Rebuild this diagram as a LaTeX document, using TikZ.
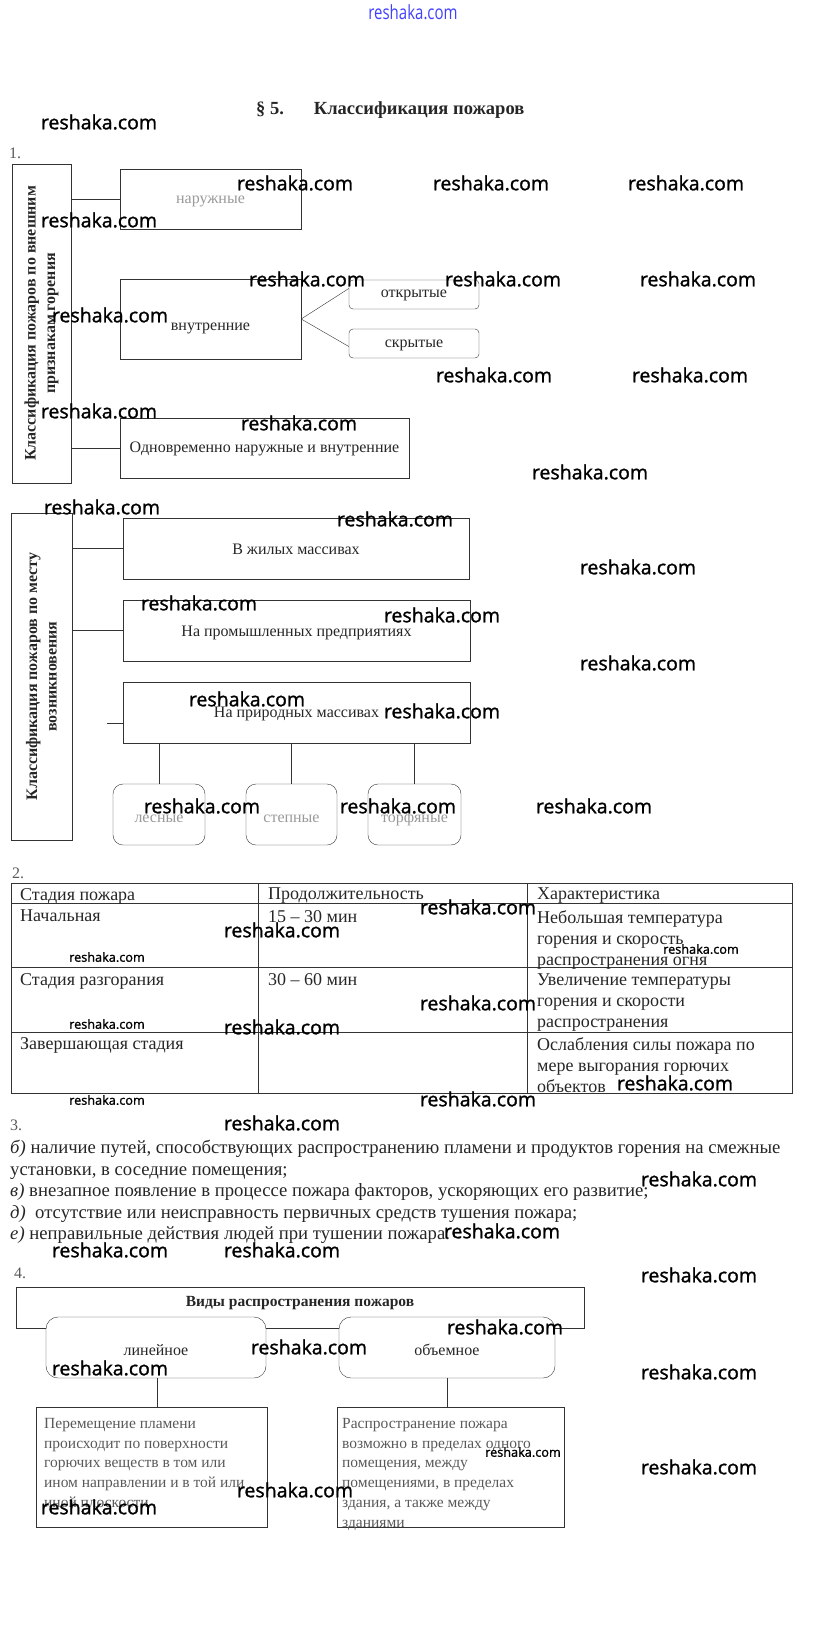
\documentclass[tikz,border=0pt]{standalone}
\usepackage{fontspec}
\setmainfont{Liberation Serif}
\newfontfamily\wmfont{Open Sans}[FakeBold=1.3]
\newfontfamily\urlfont{Open Sans}
\usepackage{tikz}
\usetikzlibrary{positioning}
\tikzset{every node/.style={font=\fontsize{16}{20}\selectfont}}
\colorlet{linecol}{black!80}
\colorlet{textcol}{black!85}
\colorlet{fadecol}{black!40}
\colorlet{softcol}{black!65}
\colorlet{wmcol}{black}
\colorlet{urlcol}{blue!75!white}
% text lowered inside its box, without changing the box
\newcommand{\shiftdown}[2]{\raisebox{-#1}[0pt][0pt]{#2}}

\begin{document}
\begin{tikzpicture}[x=1pt, y=-1pt,
  box/.style={draw=linecol, rectangle, inner sep=0pt, text=textcol},
  rbox/.style={box, rounded corners=4pt},
  kidbox/.style={box, rounded corners=10pt},
  vlabel/.style={box, rotate=90, align=center,
    font=\bfseries\fontsize{16}{19.5}\selectfont},
  cell/.style={anchor=north west, inner sep=0pt, align=left, text=textcol,
    font=\fontsize{18}{21}\selectfont},
  num/.style={anchor=west, inner sep=0pt, text=softcol},
  wmark/.style={text=wmcol, inner sep=0pt, font=\wmfont\fontsize{19.5}{22}\selectfont},
  wmsmall/.style={wmark, font=\wmfont\fontsize{12.7}{15}\selectfont},
  link/.style={draw=linecol, thin}]

  % Page frame.
  \useasboundingbox (0,0) rectangle (823,1639);

  % Header.
  \node[text=urlcol, inner sep=0pt, font=\urlfont\fontsize{15}{18}\selectfont]
    (url) at (413,12) {\scalebox{1}[1.3]{reshaka.com}};
  \node[anchor=west, inner sep=0pt, text=textcol,
    font=\bfseries\fontsize{18.5}{22}\selectfont]
    (title) at (256,110) {§ 5.\hspace{30pt}Классификация пожаров};

  % 1. Classification by outer signs.
  \node[num] (n1) at (9,153) {1.};
  \node[vlabel, minimum width=319pt, minimum height=59pt] (signs) at (41.5,323.5)
    {Классификация пожаров по внешним\\признакам горения};
  \node[box, text=fadecol, minimum width=181pt, minimum height=60pt] (outer)
    at (210.5,199) {\shiftdown{4.5pt}{наружные}};
  \node[box, minimum width=181pt, minimum height=80pt] (inner)
    at (210.5,319) {\shiftdown{11.5pt}{внутренние}};
  \node[rbox, minimum width=130pt, minimum height=29pt] (open)
    at (414,294.5) {\shiftdown{2.5pt}{открытые}};
  \node[rbox, minimum width=130pt, minimum height=29pt] (hidden)
    at (414,343.5) {\shiftdown{3.5pt}{скрытые}};
  \node[box, minimum width=289pt, minimum height=60pt] (both)
    at (264.5,448) {\shiftdown{4pt}{Одновременно наружные и внутренние}};

  \draw[link] (signs.south |- outer.west) -- (outer.west);
  \draw[link] (signs.south |- both.west) -- (both.west);
  \draw[link] (inner.east) -- ([yshift=6pt]open.west);
  \draw[link] (inner.east) -- ([yshift=-3pt]hidden.west);

  % 1. Classification by place of origin.
  \node[vlabel, minimum width=327pt, minimum height=61pt] (place) at (41.5,676.5)
    {Классификация пожаров по месту\\возникновения};
  \node[box, minimum width=346pt, minimum height=61pt] (homes)
    at (296,548.5) {\shiftdown{6pt}{В жилых массивах}};
  \node[box, minimum width=347pt, minimum height=61pt] (plants)
    at (296.5,630.5) {\shiftdown{6pt}{На промышленных предприятиях}};
  \node[box, minimum width=347pt, minimum height=61pt] (nature)
    at (296.5,712.5) {\shiftdown{4.5pt}{На природных массивах}};
  \node[kidbox, text=fadecol, minimum width=92pt, minimum height=61pt] (forest)
    at (159,814.5) {\shiftdown{8pt}{лесные}};
  \node[kidbox, text=fadecol, minimum width=91pt, minimum height=61pt] (steppe)
    at (291.5,814.5) {\shiftdown{8pt}{степные}};
  \node[kidbox, text=fadecol, minimum width=93pt, minimum height=61pt] (peat)
    at (414.5,814.5) {\shiftdown{8pt}{торфяные}};
  \coordinate (stub) at (107,723);

  \draw[link] (place.south |- homes.west) -- (homes.west);
  \draw[link] (place.south |- plants.west) -- (plants.west);
  \draw[link] (stub) -- (stub -| nature.west);
  \foreach \kid in {forest, steppe, peat} {
    \draw[link] (\kid.north) -- (\kid.north |- nature.south);
  }

  % 2. Table of fire stages.
  \node[num] (n2) at (12,873) {2.};
  \draw[link] (11,883) rectangle (792,1093);
  \foreach \y in {903, 967, 1032} {
    \draw[link] (11,\y) -- (792,\y);
  }
  \foreach \x in {258, 527} {
    \draw[link] (\x,883) -- (\x,1093);
  }
  \node[cell] (h1) at (20,888) {Стадия пожара};
  \node[cell] (h2) at (268,888) {Продолжительность};
  \node[cell] (h3) at (537,888) {Характеристика};
  \node[cell] (a1) at (20,910) {Начальная};
  \node[cell] (a2) at (268,910) {15 -- 30 мин};
  \node[cell] (a3) at (537,910)
    {Небольшая температура\\горения и скорость\\распространения огня};
  \node[cell] (b1) at (20,973) {Стадия разгорания};
  \node[cell] (b2) at (268,973) {30 -- 60 мин};
  \node[cell] (b3) at (537,973)
    {Увеличение температуры\\горения и скорости\\распространения};
  \node[cell] (c1) at (20,1037) {Завершающая стадия};
  \node[cell] (c3) at (537,1037)
    {Ослабления силы пожара по\\мере выгорания горючих\\объектов};

  % 3. Factors.
  \node[num] (n3) at (10,1125) {3.};
  \node[cell, font=\fontsize{18.7}{21.5}\selectfont] (factors) at (10,1140)
    {\textit{б)} наличие путей, способствующих распространению пламени и продуктов горения на смежные\\
     установки, в соседние помещения;\\
     \textit{в)} внезапное появление в процессе пожара факторов, ускоряющих его развитие;\\
     \textit{д)}\ \ отсутствие или неисправность первичных средств тушения пожара;\\
     \textit{е)} неправильные действия людей при тушении пожара.};

  % 4. Kinds of spread.
  \node[num] (n4) at (14,1273) {4.};
  \node[box, minimum width=568pt, minimum height=41pt,
    font=\bfseries\fontsize{15.5}{19}\selectfont] (kinds)
    at (300,1307.5) {\shiftdown{-1pt}{Виды распространения пожаров}};
  \node[box, fill=white, rounded corners=12pt, minimum width=220pt,
    minimum height=61pt] (linear) at (156,1347.5) {\shiftdown{8pt}{линейное}};
  \node[box, fill=white, rounded corners=12pt, minimum width=216pt,
    minimum height=61pt] (volume) at (447,1347.5) {\shiftdown{8pt}{объемное}};
  \node[box, minimum width=231pt, minimum height=120pt] (lindesc)
    at (151.5,1467) {};
  \node[box, minimum width=227pt, minimum height=120pt] (voldesc)
    at (450.5,1467) {};
  \node[cell, text=softcol, font=\fontsize{15.5}{19.8}\selectfont] (lintext)
    at (44,1418) {Перемещение пламени\\происходит по поверхности\\горючих веществ в том или\\ином направлении и в той или\\иной плоскости};
  \node[cell, text=softcol, font=\fontsize{15.5}{19.8}\selectfont] (voltext)
    at (342,1418) {Распространение пожара\\возможно в пределах одного\\помещения, между\\помещениями, в пределах\\здания, а также между\\зданиями};

  \draw[link] (lindesc.north -| 157,0) -- (linear.south -| 157,0);
  \draw[link] (voldesc.north -| 447,0) -- (volume.south -| 447,0);

  % Watermarks.
  \foreach \x/\y [count=\i] in {99/122, 295/183, 491/183, 686/183, 99/220,
      307/279, 503/279, 698/279, 110/315, 494/375, 690/375, 99/411, 299/423,
      590/472, 102/507, 395/519, 638/567, 199/603, 442/615, 638/663, 247/699,
      442/711, 202/806, 398/806, 594/806,
      478/907, 282/930, 478/1003, 282/1027, 478/1099, 675/1083,
      282/1123, 699/1179, 502/1231, 110/1250, 282/1250,
      699/1275, 505/1327, 309/1347, 110/1368, 699/1372, 699/1467, 295/1490, 99/1507} {
    \node[wmark] (wm-\i) at (\x,\y) {reshaka.com};
  }
  \foreach \x/\y [count=\i] in {107/957, 701/949, 107/1024, 107/1100, 523/1452} {
    \node[wmsmall] (ws-\i) at (\x,\y) {reshaka.com};
  }

\end{tikzpicture}
\end{document}
